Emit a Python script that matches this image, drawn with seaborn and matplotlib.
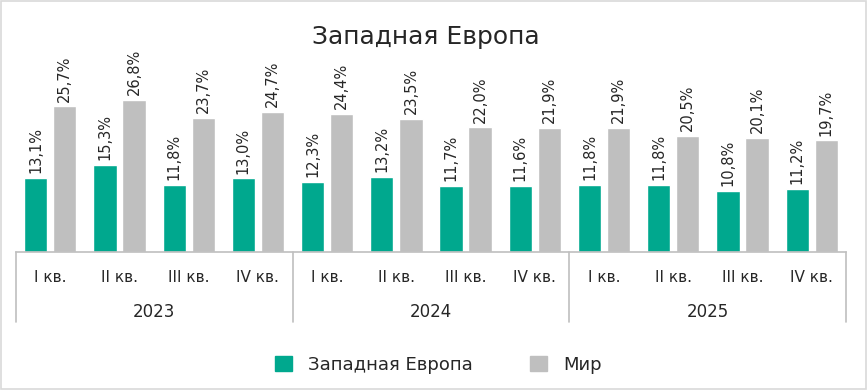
import pandas as pd
import matplotlib.pyplot as plt
import matplotlib.transforms as mtransforms
from matplotlib.patches import Rectangle
import seaborn as sns

# Данные
kvartaly = ["I кв.", "II кв.", "III кв.", "IV кв."]
gody = ["2023", "2024", "2025"]
zap_evropa = [13.1, 15.3, 11.8, 13.0, 12.3, 13.2, 11.7, 11.6, 11.8, 11.8, 10.8, 11.2]
mir = [25.7, 26.8, 23.7, 24.7, 24.4, 23.5, 22.0, 21.9, 21.9, 20.5, 20.1, 19.7]
serii = ["Западная Европа", "Мир"]
cveta = ["#00A88E", "#BFBFBF"]

period = [f"{g} {k}" for g in gody for k in kvartaly]
datos = pd.DataFrame({
    "period": period * 2,
    "value": zap_evropa + mir,
    "seria": [serii[0]] * len(period) + [serii[1]] * len(period),
})

sns.set_style("white")
plt.rcParams["font.family"] = ["DejaVu Sans"]
texto = "#262626"
gris = "#BFBFBF"

fig = plt.figure(figsize=(8.68, 3.9), dpi=100)
ax = fig.add_axes([0.018, 0.354, 0.957, 0.595])

sns.barplot(data=datos, x="period", y="value", hue="seria", palette=cveta,
            width=0.84, gap=0.2, ax=ax, legend=False, saturation=1)

# Подписи значений
for cont in ax.containers:
    ax.bar_label(cont, labels=[f"{v:.1f}%".replace(".", ",") for v in cont.datavalues],
                 rotation=90, padding=3.5, fontsize=10.5, color=texto)

ax.set_ylim(0, 41)
ax.set_xlim(-0.5, 11.5)
ax.set_yticks([])
ax.set_xlabel("")
ax.set_ylabel("")
for s in ["top", "right", "left"]:
    ax.spines[s].set_visible(False)
ax.spines["bottom"].set_color(gris)
ax.spines["bottom"].set_linewidth(1.2)

ax.set_xticks(range(12))
ax.set_xticklabels(kvartaly * 3, fontsize=11, color=texto)
ax.tick_params(axis="x", length=6, width=1.2, color=gris, pad=7)

# Годы и разделители
tr = mtransforms.blended_transform_factory(ax.transData, ax.transAxes)
for i, g in enumerate(gody):
    ax.text(i * 4 + 1.5, -0.26, g, transform=tr, ha="center", va="center",
            fontsize=12, color=texto)
for x in [-0.5, 3.5, 7.5, 11.5]:
    ax.plot([x, x], [0, -0.3], transform=tr, color=gris, lw=1.2, clip_on=False)

fig.text(0.49, 0.905, "Западная Европа", ha="center", va="center",
         fontsize=18, color=texto)

# Легенда
handles = [Rectangle((0, 0), 1, 1, color=c) for c in cveta]
fig.legend(handles, serii, loc="center", bbox_to_anchor=(0.505, 0.064), ncol=2,
           frameon=False, fontsize=13, handlelength=0.9, handleheight=0.9,
           columnspacing=3.2, handletextpad=0.9)

fig.patches.append(Rectangle((0.001, 0.002), 0.997, 0.995, transform=fig.transFigure,
                             fill=False, edgecolor="#D9D9D9", lw=1.2))

fig.savefig("out.png", dpi=100)
